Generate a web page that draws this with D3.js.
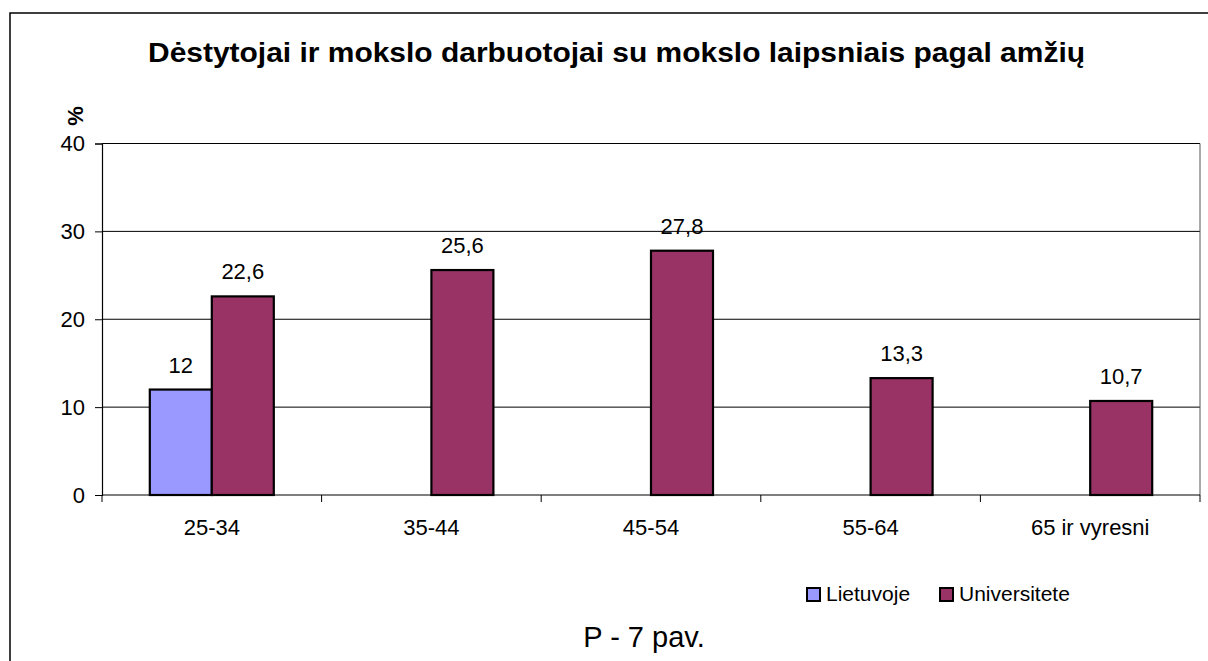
<!DOCTYPE html>
<html><head><meta charset="utf-8">
<script src="https://cdn.jsdelivr.net/npm/d3@7"></script>
<style>body{margin:0;background:#fff}svg{display:block}text{font-family:Arial,"Liberation Sans",sans-serif}</style>
</head><body>
<script>
const categories = ["25-34","35-44","45-54","55-64","65 ir vyresni"];
const seriesNames = ["Lietuvoje","Universitete"];
const lietuvoje = [12, null, null, null, null];
const universitete = [22.6, 25.6, 27.8, 13.3, 10.7];
const yTicks = [0,10,20,30,40];
const colors = ["#9999FF","#993366"];
const title = "Dėstytojai ir mokslo darbuotojai su mokslo laipsniais pagal amžių";
const caption = "P - 7 pav.";

const W=1208,H=661;
const svg=d3.select("body").append("svg").attr("width",W).attr("height",H);
svg.append("rect").attr("x",10).attr("y",13).attr("width",1400).attr("height",800)
  .attr("fill","#fff").attr("stroke","#000").attr("stroke-width",1.5);

const L=102,R=1200,T=143.5,B=495;
const x=d3.scaleBand().domain(categories).range([L,R]);
const y=d3.scaleLinear().domain([0,40]).range([B,T]);

// gridlines
svg.append("g").selectAll("line").data(yTicks.filter(d=>d>0)).join("line")
  .attr("x1",L).attr("x2",R).attr("y1",d=>y(d)).attr("y2",d=>y(d))
  .attr("stroke","#000").attr("stroke-width",1);
// plot border right
svg.append("line").attr("x1",R).attr("x2",R).attr("y1",T).attr("y2",B).attr("stroke","#555").attr("stroke-width",1);

// y axis
const ya=svg.append("g").attr("transform",`translate(${L},0)`)
  .call(d3.axisLeft(y).tickValues(yTicks).tickSize(7).tickPadding(10).tickFormat(d3.format("d")));
ya.select(".domain").attr("stroke","#000").attr("stroke-width",1.2);
ya.selectAll(".tick line").attr("stroke","#000");
ya.selectAll("text").attr("font-size",22).attr("fill","#000").attr("font-family","Arial,'Liberation Sans',sans-serif");

// x axis
const boundaries=categories.map(c=>x(c)).concat([R]);
svg.append("line").attr("x1",L).attr("x2",R).attr("y1",B).attr("y2",B).attr("stroke","#000").attr("stroke-width",1.2);
svg.append("g").selectAll("line").data(boundaries).join("line")
  .attr("x1",d=>d).attr("x2",d=>d).attr("y1",B).attr("y2",B+7).attr("stroke","#000");
svg.append("g").selectAll("text").data(categories).join("text")
  .attr("x",d=>x(d)+x.bandwidth()/2).attr("y",535).attr("text-anchor","middle")
  .attr("font-size",22).text(d=>d);

// bars
const bw=62;
const series=[lietuvoje,universitete];
series.forEach((vals,si)=>{
  const g=svg.append("g");
  const data=categories.map((c,i)=>({c,v:vals[i]})).filter(d=>d.v!=null);
  g.selectAll("rect").data(data).join("rect")
    .attr("x",d=>x(d.c)+x.bandwidth()/2+(si-1)*bw)
    .attr("y",d=>y(d.v)).attr("width",bw).attr("height",d=>y(0)-y(d.v))
    .attr("fill",colors[si]).attr("stroke","#000").attr("stroke-width",2.2);
  g.selectAll("text").data(data).join("text")
    .attr("x",d=>x(d.c)+x.bandwidth()/2+(si-1)*bw+bw/2)
    .attr("y",d=>y(d.v)-17).attr("text-anchor","middle").attr("font-size",22)
    .text(d=>String(d.v).replace(".",","));
});

// title
svg.append("text").attr("x",616.5).attr("y",62).attr("text-anchor","middle")
  .attr("font-size",27).attr("font-weight","bold")
  .attr("textLength",937).attr("lengthAdjust","spacingAndGlyphs").text(title);
// y label
svg.append("text").attr("transform","translate(83,116) rotate(-90)").attr("text-anchor","middle")
  .attr("font-size",22).attr("font-weight","bold").text("%");

// legend
const legX=[806,939];
seriesNames.forEach((n,i)=>{
  svg.append("rect").attr("x",legX[i]+1).attr("y",588).attr("width",13).attr("height",13)
    .attr("fill",colors[i]).attr("stroke","#000").attr("stroke-width",2);
  svg.append("text").attr("x",legX[i]+20).attr("y",601).attr("font-size",21).text(n);
});
// caption
svg.append("text").attr("x",644).attr("y",647).attr("text-anchor","middle").attr("font-size",29).text(caption);
</script>
</body></html>
